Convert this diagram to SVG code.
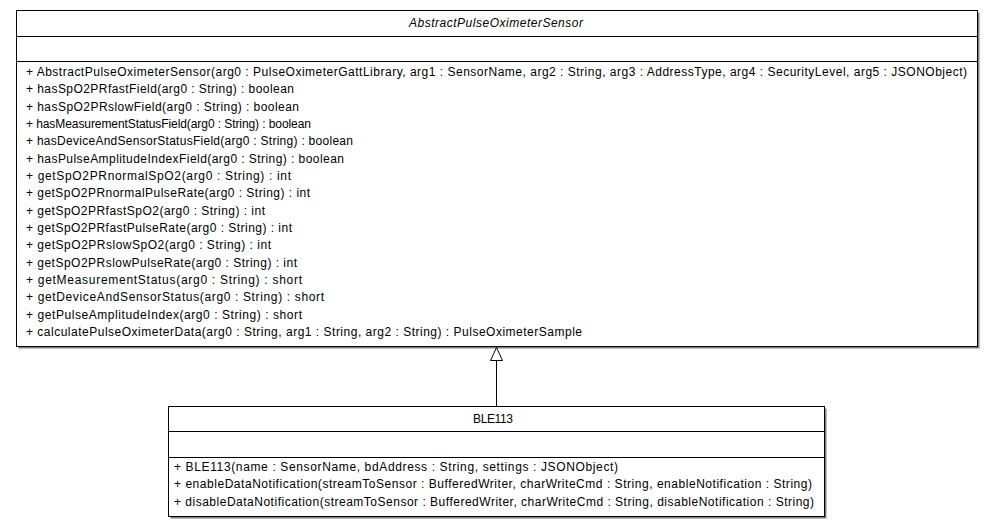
<svg xmlns="http://www.w3.org/2000/svg" width="993" height="527" viewBox="0 0 993 527">
<style>
.box{fill:#fff;stroke:#000;stroke-width:1}
.shadow{fill:#808080}
.sep{stroke:#000;stroke-width:1}
text{font-family:"Liberation Sans",Arial,sans-serif;font-size:12px;fill:#000}
.title{text-anchor:middle}
.abs{font-style:italic}
.conn{stroke:#000;stroke-width:1;fill:none}
</style>
<rect x="0" y="0" width="993" height="527" fill="#fff"/>
<g id="AbstractPulseOximeterSensor">
<rect class="shadow" x="18.5" y="12.5" width="961" height="336"/>
<rect class="box" x="16.5" y="10.5" width="961" height="336"/>
<line class="sep" x1="16.5" y1="36.5" x2="977.5" y2="36.5"/>
<line class="sep" x1="16.5" y1="61.5" x2="977.5" y2="61.5"/>
<text class="title abs" x="496" y="27" textLength="174" lengthAdjust="spacing">AbstractPulseOximeterSensor</text>
<text x="26" y="76" textLength="941" lengthAdjust="spacing">+ AbstractPulseOximeterSensor(arg0 : PulseOximeterGattLibrary, arg1 : SensorName, arg2 : String, arg3 : AddressType, arg4 : SecurityLevel, arg5 : JSONObject)</text>
<text x="26" y="93.3" textLength="268" lengthAdjust="spacing">+ hasSpO2PRfastField(arg0 : String) : boolean</text>
<text x="26" y="110.6" textLength="273" lengthAdjust="spacing">+ hasSpO2PRslowField(arg0 : String) : boolean</text>
<text x="26" y="128" textLength="285" lengthAdjust="spacing">+ hasMeasurementStatusField(arg0 : String) : boolean</text>
<text x="26" y="145.3" textLength="327" lengthAdjust="spacing">+ hasDeviceAndSensorStatusField(arg0 : String) : boolean</text>
<text x="26" y="162.6" textLength="318" lengthAdjust="spacing">+ hasPulseAmplitudeIndexField(arg0 : String) : boolean</text>
<text x="26" y="180" textLength="265" lengthAdjust="spacing">+ getSpO2PRnormalSpO2(arg0 : String) : int</text>
<text x="26" y="197.3" textLength="284" lengthAdjust="spacing">+ getSpO2PRnormalPulseRate(arg0 : String) : int</text>
<text x="26" y="214.6" textLength="239" lengthAdjust="spacing">+ getSpO2PRfastSpO2(arg0 : String) : int</text>
<text x="26" y="232" textLength="266" lengthAdjust="spacing">+ getSpO2PRfastPulseRate(arg0 : String) : int</text>
<text x="26" y="249.3" textLength="245" lengthAdjust="spacing">+ getSpO2PRslowSpO2(arg0 : String) : int</text>
<text x="26" y="266.6" textLength="271" lengthAdjust="spacing">+ getSpO2PRslowPulseRate(arg0 : String) : int</text>
<text x="26" y="284" textLength="276" lengthAdjust="spacing">+ getMeasurementStatus(arg0 : String) : short</text>
<text x="26" y="301.3" textLength="298" lengthAdjust="spacing">+ getDeviceAndSensorStatus(arg0 : String) : short</text>
<text x="26" y="318.6" textLength="276" lengthAdjust="spacing">+ getPulseAmplitudeIndex(arg0 : String) : short</text>
<text x="26" y="336" textLength="556" lengthAdjust="spacing">+ calculatePulseOximeterData(arg0 : String, arg1 : String, arg2 : String) : PulseOximeterSample</text>
</g>
<g id="BLE113">
<rect class="shadow" x="170.5" y="408.5" width="656" height="110"/>
<rect class="box" x="168.5" y="406.5" width="656" height="110"/>
<line class="sep" x1="168.5" y1="431.5" x2="824.5" y2="431.5"/>
<line class="sep" x1="168.5" y1="457.5" x2="824.5" y2="457.5"/>
<text class="title" x="493" y="423" textLength="40" lengthAdjust="spacing">BLE113</text>
<text x="174" y="471" textLength="444" lengthAdjust="spacing">+ BLE113(name : SensorName, bdAddress : String, settings : JSONObject)</text>
<text x="174" y="488.3" textLength="638" lengthAdjust="spacing">+ enableDataNotification(streamToSensor : BufferedWriter, charWriteCmd : String, enableNotification : String)</text>
<text x="174" y="505.6" textLength="640" lengthAdjust="spacing">+ disableDataNotification(streamToSensor : BufferedWriter, charWriteCmd : String, disableNotification : String)</text>
</g>
<g id="connectors">
<line class="conn" x1="496.5" y1="406" x2="496.5" y2="360.5"/>
<polygon class="conn" points="496.5,347.5 490.5,360.5 502.5,360.5" fill="#fff"/>
</g>
</svg>
